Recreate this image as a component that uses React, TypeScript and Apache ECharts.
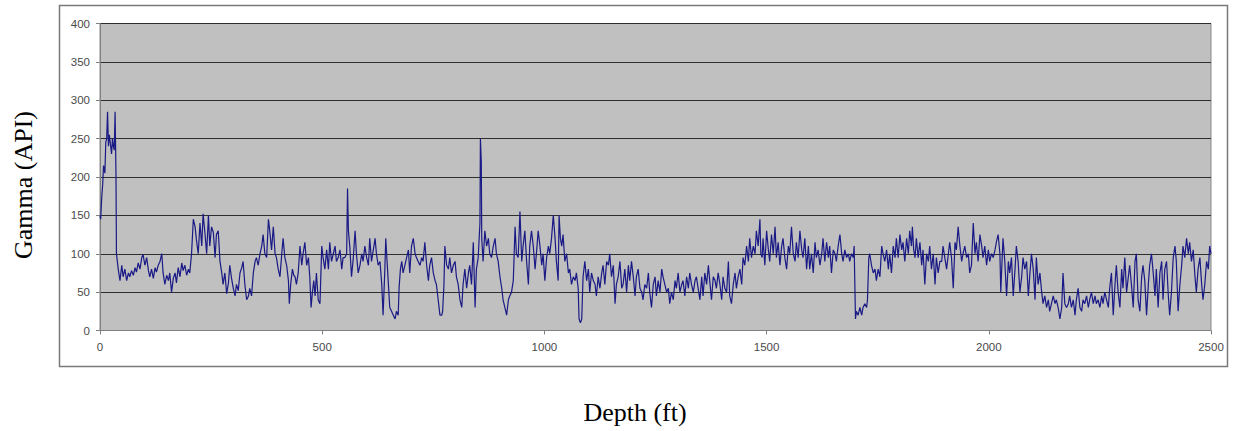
import React, { useEffect, useRef } from "react";
import * as echarts from "echarts";

// Gamma log readings: [depth (ft), gamma (API)]
const log0to315: [number, number][] = [
  [0, 150], [1.5, 145], [4, 175], [6, 190], [8, 215], [11, 205], [13, 245], [15, 250], [17, 285], [19, 240],
  [21, 255], [23, 245], [26, 230], [28, 250], [30, 240], [32, 235], [34, 285], [36, 200], [37, 100], [39, 90],
  [41, 80], [45, 65], [49, 85], [52, 70], [56, 80], [60, 65], [64, 75], [67, 70], [71, 78], [75, 72],
  [79, 82], [82, 76], [86, 88], [90, 80], [94, 95], [97, 99], [101, 85], [105, 95], [109, 78], [112, 70],
  [116, 80], [120, 68], [124, 82], [127, 76], [131, 85], [135, 90], [139, 100], [142, 75], [146, 60], [150, 72],
  [154, 65], [157, 75], [161, 50], [165, 68], [169, 75], [172, 62], [176, 82], [180, 70], [184, 88], [187, 78],
  [191, 85], [195, 72], [199, 80], [202, 75], [206, 100], [210, 145], [214, 135], [217, 118], [221, 100], [225, 140],
  [229, 110], [232, 152], [236, 128], [240, 100], [244, 150], [247, 110], [251, 135], [255, 128], [259, 95], [262, 125],
  [266, 130], [270, 90], [274, 75], [277, 60], [281, 75], [285, 48], [289, 62], [292, 85], [296, 68], [300, 55],
  [304, 45], [307, 60], [311, 52],
];

const log315to649: [number, number][] = [
  [315, 75], [319, 82], [322, 90], [326, 60], [330, 40], [334, 45], [337, 55], [341, 45], [345, 75], [349, 90],
  [352, 95], [356, 85], [360, 100], [364, 110], [367, 125], [371, 100], [375, 95], [379, 145], [382, 130], [386, 105],
  [390, 135], [394, 100], [397, 95], [401, 80], [405, 70], [409, 100], [412, 120], [416, 95], [420, 85], [424, 65],
  [426, 35], [429, 60], [433, 80], [436, 72], [439, 70], [442, 60], [446, 75], [450, 110], [454, 85], [457, 100],
  [461, 115], [465, 85], [469, 95], [472, 70], [475, 30], [478, 50], [481, 65], [484, 45], [487, 75], [491, 40],
  [495, 35], [499, 110], [502, 95], [506, 80], [510, 105], [514, 80], [517, 115], [521, 90], [525, 100], [529, 110],
  [532, 90], [536, 95], [540, 105], [544, 80], [547, 95], [551, 95], [555, 100], [557, 185], [559, 130], [562, 110],
  [566, 70], [570, 95], [574, 130], [577, 100], [581, 75], [585, 85], [589, 100], [592, 90], [596, 110], [600, 95],
  [604, 85], [607, 120], [611, 90], [615, 105], [619, 120], [622, 100], [626, 85], [630, 90], [634, 60], [637, 20],
  [641, 80], [643, 120], [646, 90], [649, 60],
];

const log652to945: [number, number][] = [
  [652, 30], [656, 25], [660, 20], [664, 15], [667, 25], [671, 20], [673, 55], [676, 80], [679, 90], [682, 75],
  [686, 85], [690, 95], [694, 105], [697, 75], [701, 110], [705, 120], [709, 100], [712, 95], [716, 90], [720, 85],
  [724, 95], [727, 90], [731, 115], [735, 85], [739, 65], [742, 85], [746, 95], [750, 75], [754, 65], [757, 60],
  [761, 40], [765, 20], [769, 20], [771, 25], [774, 60], [776, 110], [780, 85], [784, 80], [787, 95], [791, 75],
  [795, 85], [799, 90], [802, 70], [806, 60], [810, 40], [814, 30], [817, 60], [821, 80], [825, 55], [829, 75],
  [832, 85], [836, 60], [840, 115], [844, 30], [847, 80], [851, 95], [855, 140], [856, 250], [858, 220], [859, 120],
  [862, 90], [866, 130], [870, 110], [874, 120], [877, 100], [881, 95], [885, 110], [889, 120], [892, 100], [896, 90],
  [900, 70], [904, 55], [907, 40], [911, 30], [915, 20], [919, 40], [922, 45], [926, 50], [930, 65], [934, 135],
  [937, 100], [941, 95], [945, 155],
];

const log949to1279: [number, number][] = [
  [949, 90], [952, 110], [956, 130], [960, 90], [964, 60], [967, 110], [971, 130], [975, 110], [979, 80], [982, 100],
  [986, 130], [990, 110], [994, 85], [997, 100], [1001, 65], [1005, 95], [1009, 110], [1012, 100], [1016, 120], [1020, 150],
  [1024, 120], [1027, 90], [1031, 65], [1033, 150], [1036, 120], [1039, 110], [1042, 125], [1046, 90], [1050, 100], [1054, 75],
  [1057, 80], [1061, 60], [1065, 70], [1069, 65], [1072, 75], [1076, 55], [1078, 15], [1081, 10], [1084, 15], [1087, 70],
  [1091, 90], [1095, 65], [1099, 80], [1102, 50], [1106, 75], [1110, 65], [1114, 60], [1117, 45], [1121, 70], [1125, 55],
  [1129, 75], [1132, 85], [1136, 60], [1140, 90], [1144, 85], [1147, 100], [1151, 70], [1155, 85], [1159, 35], [1162, 60],
  [1166, 70], [1170, 90], [1174, 55], [1177, 60], [1181, 80], [1185, 50], [1189, 85], [1192, 65], [1196, 90], [1200, 70],
  [1204, 45], [1207, 70], [1211, 80], [1215, 55], [1219, 50], [1222, 40], [1226, 60], [1230, 55], [1234, 75], [1237, 50],
  [1241, 30], [1245, 60], [1249, 70], [1252, 45], [1256, 65], [1260, 50], [1264, 80], [1267, 70], [1271, 60], [1275, 50],
  [1279, 55],
];

const log1282to1594: [number, number][] = [
  [1282, 35], [1286, 50], [1290, 40], [1294, 65], [1297, 55], [1301, 75], [1305, 50], [1309, 60], [1312, 65], [1316, 45],
  [1320, 70], [1324, 55], [1327, 75], [1331, 60], [1335, 50], [1339, 65], [1342, 70], [1346, 55], [1350, 40], [1354, 70],
  [1357, 45], [1361, 75], [1365, 60], [1369, 85], [1372, 65], [1376, 40], [1380, 70], [1384, 65], [1387, 55], [1391, 75],
  [1395, 60], [1399, 40], [1402, 70], [1406, 55], [1410, 50], [1414, 90], [1417, 45], [1421, 35], [1425, 60], [1429, 75],
  [1432, 55], [1436, 70], [1440, 80], [1444, 60], [1447, 95], [1451, 85], [1455, 110], [1459, 90], [1462, 120], [1466, 95],
  [1470, 110], [1474, 100], [1477, 130], [1481, 110], [1485, 145], [1487, 100], [1490, 95], [1492, 120], [1496, 85], [1500, 130],
  [1504, 105], [1507, 90], [1511, 125], [1515, 100], [1519, 135], [1522, 95], [1526, 115], [1530, 85], [1534, 110], [1537, 120],
  [1541, 95], [1545, 80], [1549, 110], [1552, 100], [1556, 135], [1560, 100], [1564, 90], [1567, 115], [1571, 95], [1575, 130],
  [1579, 105], [1582, 95], [1586, 120], [1590, 80], [1594, 110],
];

const log1597to1890: [number, number][] = [
  [1597, 80], [1601, 100], [1605, 75], [1609, 115], [1612, 95], [1616, 105], [1620, 85], [1624, 100], [1627, 120], [1631, 90],
  [1635, 115], [1639, 95], [1642, 110], [1646, 75], [1650, 105], [1654, 100], [1657, 90], [1661, 110], [1665, 125], [1669, 100],
  [1672, 90], [1676, 105], [1680, 95], [1684, 100], [1687, 90], [1691, 100], [1695, 95], [1697, 110], [1700, 15], [1702, 25],
  [1706, 20], [1710, 30], [1714, 20], [1717, 30], [1721, 35], [1725, 30], [1727, 40], [1730, 95], [1732, 100], [1736, 85],
  [1740, 75], [1744, 80], [1747, 65], [1751, 80], [1755, 70], [1759, 110], [1762, 100], [1766, 90], [1770, 105], [1774, 80],
  [1777, 100], [1781, 75], [1785, 110], [1789, 95], [1792, 120], [1796, 95], [1800, 125], [1804, 105], [1807, 115], [1811, 90],
  [1815, 120], [1819, 100], [1822, 130], [1826, 110], [1828, 135], [1831, 105], [1834, 95], [1837, 120], [1841, 95], [1845, 115],
  [1849, 85], [1852, 105], [1856, 60], [1860, 100], [1864, 90], [1867, 110], [1871, 80], [1875, 100], [1879, 60], [1882, 95],
  [1886, 75], [1890, 90],
];

const log1894to2205: [number, number][] = [
  [1894, 90], [1897, 110], [1901, 95], [1905, 80], [1909, 100], [1912, 115], [1916, 95], [1920, 55], [1924, 115], [1927, 105],
  [1931, 135], [1935, 110], [1939, 90], [1942, 100], [1946, 110], [1950, 95], [1954, 100], [1957, 75], [1961, 85], [1965, 140],
  [1969, 100], [1972, 115], [1976, 90], [1980, 125], [1984, 110], [1987, 95], [1991, 110], [1995, 85], [1999, 105], [2002, 90],
  [2006, 100], [2010, 95], [2014, 105], [2017, 115], [2021, 125], [2025, 100], [2027, 50], [2029, 80], [2032, 120], [2036, 90],
  [2040, 45], [2044, 90], [2047, 75], [2051, 95], [2055, 45], [2059, 80], [2062, 110], [2066, 90], [2070, 50], [2074, 70],
  [2077, 95], [2081, 80], [2085, 90], [2089, 45], [2092, 70], [2096, 100], [2100, 80], [2104, 40], [2107, 95], [2111, 60],
  [2115, 75], [2119, 50], [2122, 35], [2126, 45], [2130, 30], [2134, 40], [2137, 25], [2141, 35], [2145, 45], [2149, 35],
  [2152, 40], [2156, 30], [2160, 15], [2164, 30], [2167, 75], [2171, 35], [2175, 30], [2179, 35], [2182, 45], [2186, 30],
  [2190, 40], [2194, 20], [2197, 40], [2201, 55], [2205, 30],
];

const log2209to2500: [number, number][] = [
  [2209, 25], [2212, 40], [2216, 35], [2220, 45], [2224, 30], [2227, 40], [2231, 50], [2235, 35], [2239, 45], [2242, 35],
  [2246, 40], [2250, 30], [2254, 45], [2257, 35], [2261, 50], [2265, 40], [2269, 30], [2272, 55], [2276, 75], [2280, 20],
  [2284, 60], [2287, 85], [2291, 50], [2295, 30], [2299, 80], [2302, 55], [2306, 95], [2310, 50], [2314, 70], [2317, 85],
  [2321, 60], [2325, 30], [2329, 90], [2332, 100], [2336, 40], [2340, 25], [2344, 70], [2347, 85], [2351, 65], [2355, 20],
  [2359, 60], [2362, 85], [2366, 100], [2370, 75], [2374, 45], [2377, 80], [2381, 30], [2385, 75], [2389, 90], [2392, 40],
  [2396, 80], [2400, 90], [2404, 45], [2407, 20], [2411, 50], [2415, 95], [2419, 110], [2422, 90], [2426, 25], [2430, 60],
  [2434, 85], [2437, 110], [2441, 95], [2445, 120], [2449, 100], [2452, 115], [2456, 90], [2460, 105], [2464, 70], [2467, 50],
  [2471, 80], [2475, 95], [2479, 60], [2482, 40], [2486, 60], [2490, 90], [2494, 80], [2497, 110], [2500, 100],
];

const depthMin = 0;
const depthMax = 2500;
const depthStep = 500;
const gammaMin = 0;
const gammaMax = 400;
const gammaStep = 50;
const xTitle = "Depth (ft)";
const yTitle = "Gamma (API)";

export default function App() {
  const ref = useRef<HTMLDivElement>(null);
  useEffect(() => {
    if (!ref.current) return;
    const chart = echarts.init(ref.current, undefined, { renderer: "svg" });
    const data = [
      ...log0to315,
      ...log315to649,
      ...log652to945,
      ...log949to1279,
      ...log1282to1594,
      ...log1597to1890,
      ...log1894to2205,
      ...log2209to2500,
    ];
    const labelStyle = {
      color: "#4a4a4a",
      fontSize: 11.5,
      fontFamily: "Arial, 'Liberation Sans', sans-serif",
      margin: 10,
      formatter: (v: number) => String(v),
    };
    chart.setOption({
      animation: false,
      backgroundColor: "#ffffff",
      graphic: [
        {
          type: "rect",
          shape: { x: 59.5, y: 5.5, width: 1168, height: 361 },
          style: { fill: "none", stroke: "#7a7a7a", lineWidth: 1.5 },
          z: -1,
          silent: true,
        },
        {
          type: "text",
          x: 635,
          y: 412,
          style: {
            text: xTitle,
            font: "26px 'Liberation Serif', 'Times New Roman', serif",
            fill: "#000",
            align: "center",
            verticalAlign: "middle",
          },
        },
        {
          type: "text",
          x: 23,
          y: 185,
          rotation: Math.PI / 2,
          style: {
            text: yTitle,
            font: "26px 'Liberation Serif', 'Times New Roman', serif",
            fill: "#000",
            align: "center",
            verticalAlign: "middle",
          },
        },
      ],
      grid: {
        left: 100,
        right: 27,
        top: 23.5,
        bottom: 100.5,
        show: true,
        backgroundColor: "#c0c0c0",
        borderColor: "#888888",
        borderWidth: 1,
      },
      xAxis: {
        type: "value",
        min: depthMin,
        max: depthMax,
        interval: depthStep,
        axisLine: { show: true, onZero: false, lineStyle: { color: "#808080", width: 1 } },
        axisTick: { show: true, inside: false, length: 4, lineStyle: { color: "#808080" } },
        axisLabel: labelStyle,
        splitLine: { show: false },
      },
      yAxis: {
        type: "value",
        min: gammaMin,
        max: gammaMax,
        interval: gammaStep,
        axisLine: { show: true, lineStyle: { color: "#808080", width: 1 } },
        axisTick: { show: true, inside: false, length: 4, lineStyle: { color: "#808080" } },
        axisLabel: labelStyle,
        splitLine: { show: true, lineStyle: { color: "#2e2e2e", width: 1 } },
      },
      series: [
        {
          type: "line",
          data,
          showSymbol: false,
          symbol: "none",
          lineStyle: { color: "#1a1a86", width: 1.2 },
        },
      ],
    });
    return () => chart.dispose();
  }, []);
  return (
    <div
      ref={ref}
      style={{ position: "fixed", left: 0, top: 0, width: 1238, height: 431 }}
    />
  );
}
